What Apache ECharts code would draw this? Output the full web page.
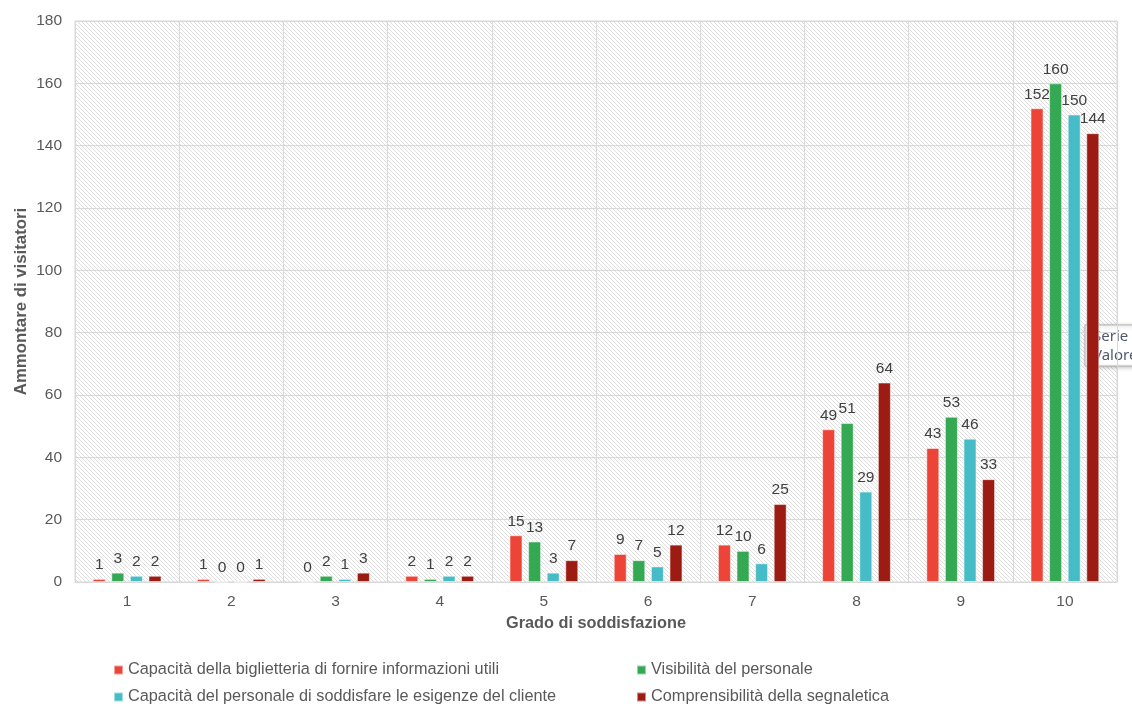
<!DOCTYPE html>
<html>
<head>
<meta charset="utf-8">
<script src="https://cdn.jsdelivr.net/npm/echarts@6/dist/echarts.min.js"></script>
<style>html,body{margin:0;padding:0;background:#fff;}#c{width:1132px;height:706px;}</style>
</head>
<body>
<div id="c"></div>
<script>
var categories = ['1','2','3','4','5','6','7','8','9','10'];
var seriesNames = [
  'Capacità della biglietteria di fornire informazioni utili',
  'Visibilità del personale',
  'Capacità del personale di soddisfare le esigenze del cliente',
  'Comprensibilità della segnaletica'
];
var biglietteria = [1, 1, 0, 2, 15, 9, 12, 49, 43, 152];
var visibilita = [3, 0, 2, 1, 13, 7, 10, 51, 53, 160];
var personale = [2, 0, 1, 2, 3, 5, 6, 29, 46, 150];
var segnaletica = [2, 1, 3, 2, 7, 12, 25, 64, 33, 144];
var colors = ['#ec4436', '#34a853', '#46bdc6', '#9c1b12'];

var tile = document.createElement('canvas');
tile.width = 4; tile.height = 4;
var tc = tile.getContext('2d');
tc.fillStyle = '#ffffff'; tc.fillRect(0, 0, 4, 4);
tc.fillStyle = '#dedede';
for (var i = 0; i < 4; i++) { tc.fillRect(i, i, 1, 1); }

var font = 'Liberation Sans, Arial, sans-serif';
function mk(name, data, color) {
  return {
    name: name, type: 'bar', data: data, barWidth: 13, barGap: '43%',
    itemStyle: { color: color, borderColor: 'rgba(255,255,255,0.5)', borderWidth: 1 },
    label: { show: true, position: 'top', distance: 6, color: '#404040', fontSize: 15.5, fontFamily: font }
  };
}
function lg(name, left, top) {
  return { data: [name], left: left, top: top, padding: 0,
    itemWidth: 9, itemHeight: 9, icon: 'rect', itemGap: 5,
    textStyle: { color: '#595959', fontSize: 16.3, fontFamily: font } };
}
var chart = echarts.init(document.getElementById('c'));
chart.setOption({
  animation: false,
  color: colors,
  grid: { left: 75, right: 15, top: 21, bottom: 124, show: true,
    backgroundColor: { image: tile, repeat: 'repeat' }, borderColor: '#d9d9d9', borderWidth: 1 },
  xAxis: {
    type: 'category', data: categories,
    name: 'Grado di soddisfazione', nameLocation: 'middle', nameGap: 34, nameMoveOverlap: false,
    nameTextStyle: { color: '#595959', fontSize: 16.3, fontWeight: 'bold', fontFamily: font },
    axisLine: { lineStyle: { color: '#d9d9d9' } }, axisTick: { show: false },
    axisLabel: { color: '#595959', fontSize: 15.5, fontFamily: font, margin: 12 },
    splitLine: { show: true, lineStyle: { color: '#d9d9d9' } }
  },
  yAxis: {
    type: 'value', min: 0, max: 180, interval: 20,
    name: 'Ammontare di visitatori', nameLocation: 'middle', nameGap: 45, nameMoveOverlap: false,
    nameTextStyle: { color: '#595959', fontSize: 16.8, fontWeight: 'bold', fontFamily: font },
    axisLine: { show: false }, axisTick: { show: false },
    axisLabel: { color: '#595959', fontSize: 15.5, fontFamily: font, margin: 13 },
    splitLine: { lineStyle: { color: '#d9d9d9' } }
  },
  legend: [
    lg(seriesNames[0], 113, 662),
    lg(seriesNames[2], 113, 689),
    lg(seriesNames[1], 636, 662),
    lg(seriesNames[3], 636, 689)
  ],
  series: [
    mk(seriesNames[0], biglietteria, colors[0]),
    mk(seriesNames[1], visibilita, colors[1]),
    mk(seriesNames[2], personale, colors[2]),
    mk(seriesNames[3], segnaletica, colors[3])
  ],
  graphic: [{
    type: 'group', x: 1085, y: 325, z: 100,
    children: [
      { type: 'rect', shape: { x: 0, y: 0, width: 70, height: 41 },
        style: { fill: '#fff', stroke: '#b0b0b0', lineWidth: 1, shadowBlur: 4, shadowColor: 'rgba(0,0,0,0.25)', shadowOffsetX: 1, shadowOffsetY: 1 } },
      { type: 'text', x: 8, y: 4, style: { text: 'Serie', fill: '#4f5a6b', fontSize: 15, fontFamily: 'Noto Sans, sans-serif' } },
      { type: 'text', x: 8, y: 23, style: { text: 'Valore', fill: '#4f5a6b', fontSize: 15, fontFamily: 'Noto Sans, sans-serif' } }
    ]
  }]
});
</script>
</body>
</html>
